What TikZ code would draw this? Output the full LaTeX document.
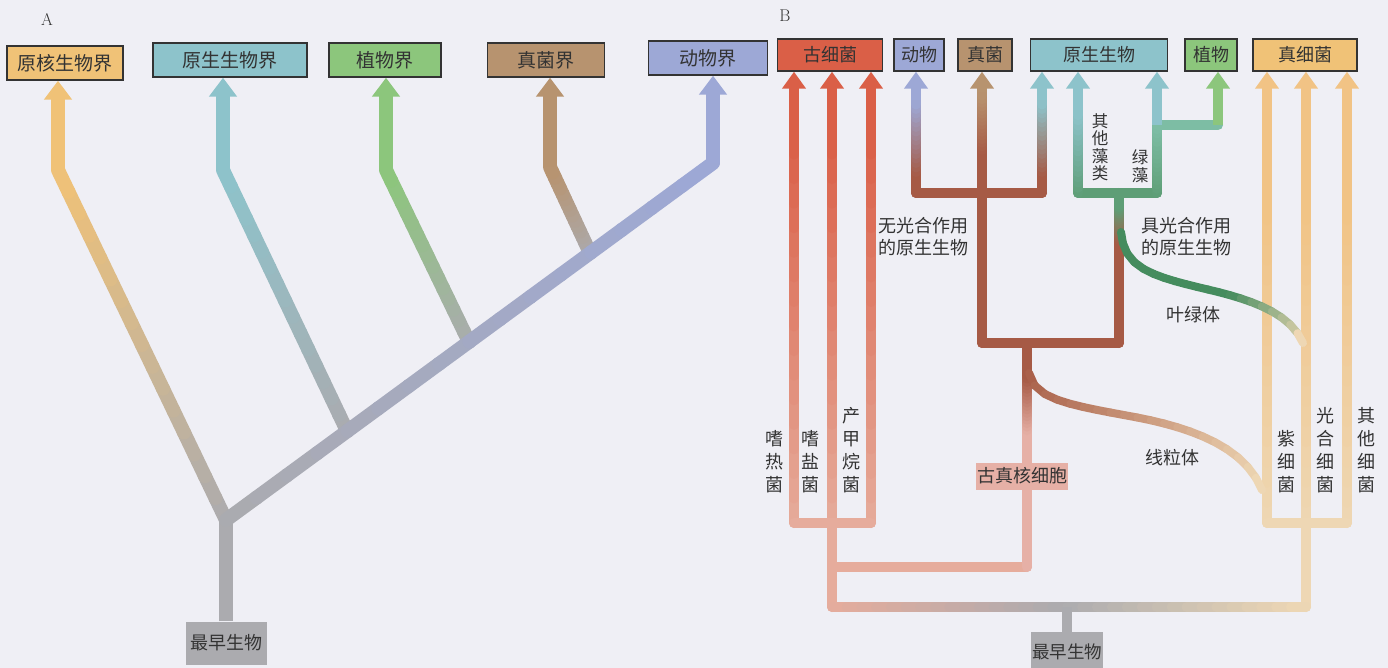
\documentclass[tikz,border=0pt]{standalone}
\usepackage{fontspec}
\usepackage{xcolor}
\usepackage{tikz}
\usetikzlibrary{arrows.meta,calc,decorations.markings}
\newfontfamily\cjk{Noto Sans CJK SC}
\definecolor{cBg}{HTML}{EFEFF5}
\definecolor{cTxt}{HTML}{333333}
\definecolor{cOrange}{HTML}{F0C277}
\definecolor{cTeal}{HTML}{8DC3CB}
\definecolor{cTealG}{HTML}{7DBDA4}
\definecolor{cGreen}{HTML}{8CC67C}
\definecolor{cBrown}{HTML}{B7936F}
\definecolor{cLav}{HTML}{9DA8D6}
\definecolor{cGrey}{HTML}{ABABAF}
\definecolor{cRed}{HTML}{DA5F47}
\definecolor{cPink}{HTML}{E6AC9C}
\definecolor{cEuk}{HTML}{A65A45}
\definecolor{cDkGreen}{HTML}{458C5E}
\definecolor{cAlga}{HTML}{5E9E76}
\definecolor{cPale}{HTML}{EED7B4}
\definecolor{cBact}{HTML}{F1C385}
\definecolor{cCell}{HTML}{E6B0A6}

\newcommand\shadeline[5]{%
  \foreach \k in {1,...,16}{%
    \pgfmathsetmacro\ka{(\k-1)/16}%
    \pgfmathsetmacro\kb{\k/16}%
    \pgfmathtruncatemacro\kc{100-(\k-0.5)*6.25}%
    \draw[line width=#1, line cap=round, #4!\kc!#5] ($(#2)!\ka!(#3)$) -- ($(#2)!\kb!(#3)$);
  }}

\begin{document}
\begin{tikzpicture}[x=1pt,y=-1pt,
  boxA/.style={draw=black!80,line width=1.4pt,minimum height=34pt,inner sep=0pt,font=\cjk\fontsize{19}{22}\selectfont,text=cTxt},
  boxB/.style={boxA,minimum height=32pt,font=\cjk\fontsize{18}{21}\selectfont},
  rootbox/.style={fill=cGrey,inner sep=0pt,font=\cjk\fontsize{18}{21}\selectfont,text=cTxt},
  armA/.style={line width=14pt,-{Triangle[width=27pt,length=19pt]}},
  armB/.style={line width=10pt,-{Triangle[width=23pt,length=17pt]}},
  barB/.style={line width=10pt,line cap=round},
  lbl/.style={font=\cjk\fontsize{18}{22}\selectfont,text=cTxt,align=center,inner sep=0pt},
  vlbl/.style={lbl,font=\cjk\fontsize{18}{23}\selectfont}]
  \useasboundingbox (0,0) rectangle (1388,668);
  \fill[cBg] (0,0) rectangle (1388,668);

  \node[font=\fontsize{17}{20}\selectfont,text=cTxt] (labA) at (47,19) {A};
  \node[font=\fontsize{17}{20}\selectfont,text=cTxt] (labB) at (785,16) {B};

  \node[boxA, fill=cOrange, minimum width=116pt] (aPro) at (65,63) {原核生物界};
  \node[boxA, fill=cTeal, minimum width=154pt] (aProt) at (230,60) {原生生物界};
  \node[boxA, fill=cGreen, minimum width=112pt] (aPla) at (385,60) {植物界};
  \node[boxA, fill=cBrown, minimum width=117pt] (aFun) at (546,60) {真菌界};
  \node[boxA, fill=cLav, minimum width=119pt] (aAni) at (708,58) {动物界};
  \node[rootbox, minimum width=81pt, minimum height=43pt] (aRoot) at (226,643) {最早生物};

  \coordinate (aJ0) at (226,520);
  \coordinate (aJ2) at (347,431);
  \coordinate (aJ3) at (469,342);
  \coordinate (aJ4) at (590,253);
  \coordinate (aB1) at (58,170);
  \coordinate (aB2) at (223,170);
  \coordinate (aB3) at (386,170);
  \coordinate (aB4) at (550,167);
  \coordinate (aB5) at (713,163);

  \draw[line width=14pt, cGrey] (aRoot.north) -- (aJ0);
  \shadeline{14pt}{aJ0}{aB1}{cGrey}{cOrange}
  \shadeline{14pt}{aJ2}{aB2}{cGrey}{cTeal}
  \shadeline{14pt}{aJ3}{aB3}{cGrey}{cGreen}
  \shadeline{14pt}{aJ4}{aB4}{cGrey}{cBrown}
  \shadeline{14pt}{aJ0}{aB5}{cGrey}{cLav}
  \draw[armA, cOrange] (aB1) -- (aPro.south -| aB1);
  \draw[armA, cTeal] (aB2) -- (aProt.south -| aB2);
  \draw[armA, cGreen] (aB3) -- (aPla.south -| aB3);
  \draw[armA, cBrown] (aB4) -- (aFun.south -| aB4);
  \draw[armA, cLav] (aB5) -- (aAni.south -| aB5);

  \node[boxB, fill=cRed, minimum width=105pt] (bArc) at (830,55) {古细菌};
  \node[boxB, fill=cLav, minimum width=50pt] (bAni) at (919,55) {动物};
  \node[boxB, fill=cBrown, minimum width=54pt] (bFun) at (985,55) {真菌};
  \node[boxB, fill=cTeal, minimum width=137pt] (bPro) at (1099,55) {原生生物};
  \node[boxB, fill=cGreen, minimum width=52pt] (bPla) at (1211,55) {植物};
  \node[boxB, fill=cOrange, minimum width=104pt] (bEub) at (1305,55) {真细菌};
  \node[rootbox, minimum width=72pt, minimum height=40pt, font=\cjk\fontsize{17.5}{20}\selectfont] (bRoot) at (1067,652) {最早生物};

  \foreach \x [count=\i] in {794,832,871}{
    \coordinate (arcLow\i) at (\x,523);
    \coordinate (arcTop\i) at (\x,130);
    \shadeline{10pt}{arcLow\i}{arcTop\i}{cPink}{cRed}
    \draw[armB, cRed] (arcTop\i) -- (bArc.south -| arcTop\i);
  }
  \coordinate (bJa) at (832,567);
  \coordinate (bJb) at (832,607);
  \draw[barB, cPink] (arcLow1) -- (arcLow3);
  \draw[barB, cPink] (arcLow2) -- (bJb);

  \coordinate (bEuBase) at (1027,567);
  \coordinate (bEuMid) at (1027,430);
  \coordinate (bEuUp) at (1027,375);
  \coordinate (bEuTop) at (1027,343);
  \draw[barB, cPink] (bJa) -- (bEuBase);
  \draw[barB, cCell] (bEuBase) -- (bEuMid);
  \shadeline{10pt}{bEuMid}{bEuUp}{cCell}{cEuk}
  \draw[barB, cEuk] (bEuUp) -- (bEuTop);

  \coordinate (bFL) at (982,343);
  \coordinate (bFR) at (1119,343);
  \coordinate (bFM) at (982,150);
  \coordinate (bFT) at (982,92);
  \draw[barB, cEuk] (bFL) -- (bFR);
  \draw[barB, cEuk] (bFL) -- (bFM);
  \shadeline{10pt}{bFM}{bFT}{cEuk}{cBrown}
  \draw[armB, cBrown] (bFT) -- (bFun.south -| bFT);

  \coordinate (bTL) at (916,193);
  \coordinate (bTR) at (1042,193);
  \coordinate (bAm) at (916,172);
  \coordinate (bAt) at (916,100);
  \coordinate (bPm) at (1042,172);
  \coordinate (bPt) at (1042,100);
  \draw[barB, cEuk] (bTL) -- (bTR);
  \draw[barB, cEuk] (bTL) -- (bAm);
  \draw[barB, cEuk] (bTR) -- (bPm);
  \shadeline{10pt}{bAm}{bAt}{cEuk}{cLav}
  \shadeline{10pt}{bPm}{bPt}{cEuk}{cTeal}
  \draw[armB, cLav] (bAt) -- (bAni.south -| bAt);
  \draw[armB, cTeal] (bPt) -- (bPro.south -| bPt);

  \coordinate (bGm) at (1119,240);
  \coordinate (bGt) at (1119,205);
  \coordinate (bGc) at (1119,193);
  \coordinate (bGL) at (1078,193);
  \coordinate (bGR) at (1157,193);
  \coordinate (bGLt) at (1078,110);
  \coordinate (bPlJ) at (1157,125);
  \coordinate (bPlB) at (1218,125);
  \draw[barB, cEuk] (bFR) -- (bGm);
  \shadeline{10pt}{bGm}{bGt}{cEuk}{cAlga}
  \draw[barB, cAlga] (bGt) -- (bGc);
  \draw[barB, cAlga] (bGL) -- (bGR);
  \shadeline{10pt}{bGL}{bGLt}{cAlga}{cTeal}
  \draw[armB, cTeal] (bGLt) -- (bPro.south -| bGLt);
  \shadeline{10pt}{bGR}{bPlJ}{cAlga}{cTealG}
  \draw[barB, cTealG] (bPlJ) -- (bPlB);
  \draw[armB, cTeal] (bPlJ) -- (bPro.south -| bPlJ);
  \draw[armB, cGreen] (bPlB) -- (bPla.south -| bPlB);

  \foreach \x [count=\i] in {1267,1306,1347}{
    \coordinate (eubLow\i) at (\x,523);
    \coordinate (eubTop\i) at (\x,200);
    \shadeline{10pt}{eubLow\i}{eubTop\i}{cPale}{cBact}
    \draw[armB, cBact] (eubTop\i) -- (bEub.south -| eubTop\i);
  }
  \coordinate (bJc) at (1306,607);
  \coordinate (bJr) at (1067,607);
  \draw[barB, cPale] (eubLow1) -- (eubLow3);
  \draw[barB, cPale] (eubLow2) -- (bJc);
  \shadeline{10pt}{bJb}{bJr}{cPink}{cGrey}
  \shadeline{10pt}{bJr}{bJc}{cGrey}{cPale}
  \draw[line width=10pt, cGrey] (bJr) -- (bRoot.north);

  \coordinate (bChl0) at (1121,232);
  \coordinate (bChl1) at (1303,343);
  \coordinate (bMit0) at (1029,373);
  \coordinate (bMit1) at (1262,490);
  \path[decorate, decoration={markings, mark=between positions 0 and 1 step 0.05 with {\coordinate (chl\pgfkeysvalueof{/pgf/decoration/mark info/sequence number});}}]
    (bChl0) .. controls (1124,268) and (1150,276) .. (1210,290) .. controls (1265,303) and (1292,318) .. (bChl1);
  \path[decorate, decoration={markings, mark=between positions 0 and 1 step 0.05 with {\coordinate (mit\pgfkeysvalueof{/pgf/decoration/mark info/sequence number});}}]
    (bMit0) .. controls (1034,400) and (1070,405) .. (1140,418) .. controls (1210,432) and (1248,455) .. (bMit1);
  \foreach \k in {1,...,19}{
    \pgfmathtruncatemacro\kn{\k+1}
    \pgfmathtruncatemacro\kc{min(100,(21-\k)*12)}
    \pgfmathtruncatemacro\km{100-\k*5}
    \draw[line width=8pt, line cap=round, cDkGreen!\kc!cPale] (chl\k) -- (chl\kn);
    \draw[line width=8pt, line cap=round, cEuk!\km!cPale] (mit\k) -- (mit\kn);
  }
  \draw[line width=8pt, line cap=round, cPale] (chl20) -- (bChl1);
  \draw[line width=8pt, line cap=round, cPale] (mit20) -- (bMit1);

  \node[lbl, fill=cCell, minimum width=92pt, minimum height=27pt] (bCell) at (1022,476) {古真核细胞};
  \node[lbl] (tNo) at (923,237) {无光合作用\\的原生生物};
  \node[lbl] (tYes) at (1186,237) {具光合作用\\的原生生物};
  \node[lbl] (tChl) at (1193,315) {叶绿体};
  \node[lbl] (tMit) at (1172,458) {线粒体};
  \node[vlbl] (tThe) at (774,462) {嗜\\热\\菌};
  \node[vlbl] (tHal) at (810,462) {嗜\\盐\\菌};
  \node[vlbl] (tMet) at (851,450) {产\\甲\\烷\\菌};
  \node[vlbl] (tPur) at (1286,462) {紫\\细\\菌};
  \node[vlbl] (tCya) at (1325,450) {光\\合\\细\\菌};
  \node[vlbl] (tOth) at (1366,450) {其\\他\\细\\菌};
  \node[lbl, font=\cjk\fontsize{16.5}{17.5}\selectfont] (tAlg) at (1100,147) {其\\他\\藻\\类};
  \node[lbl, font=\cjk\fontsize{16.5}{17.5}\selectfont] (tGre) at (1140,166) {绿\\藻};
\end{tikzpicture}
\end{document}
